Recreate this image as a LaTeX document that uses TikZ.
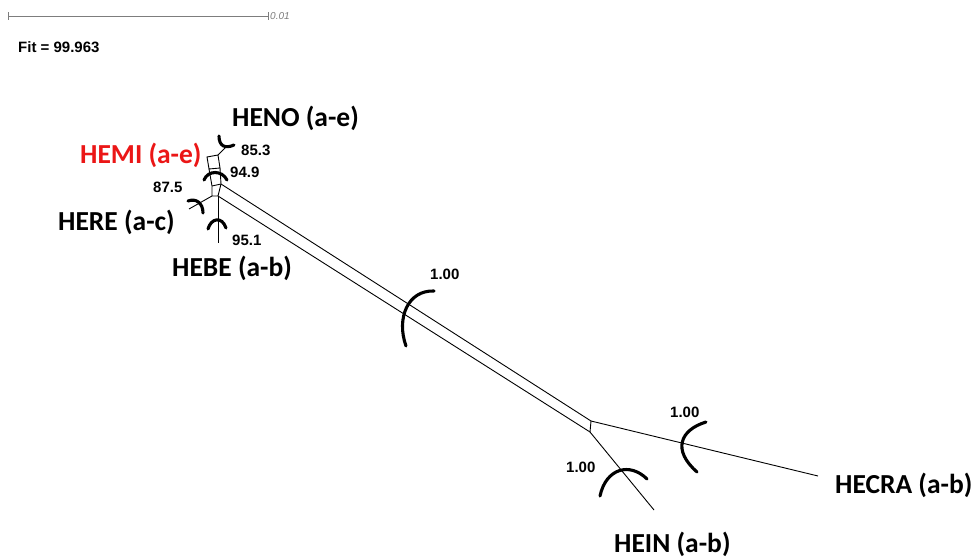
\documentclass[tikz,border=0pt]{standalone}
\usepackage{fontspec}
\setmainfont{Liberation Sans}
\newfontfamily\taxonfont{Carlito}
\definecolor{taxred}{RGB}{235,22,22}
\definecolor{bargray}{RGB}{125,125,125}
\begin{document}
\begin{tikzpicture}[x=1pt,y=-1pt,
  edge/.style={line width=0.9pt,black},
  support/.style={line width=3.1pt,black,line cap=round},
  taxon/.style={font=\taxonfont\bfseries\fontsize{27.5}{30}\selectfont,anchor=base west,inner sep=0pt},
  conf/.style={font=\bfseries\fontsize{15}{17}\selectfont,anchor=base west,inner sep=0pt},
]
\fill[white] (0,0) rectangle (974,559);
\useasboundingbox (0,0) rectangle (974,559);

% scale bar
\coordinate (sb0) at (8,16);
\coordinate (sb1) at (268,16);
\draw[bargray,line width=0.7pt] (sb0) -- (sb1);
\draw[bargray,line width=0.7pt] ([yshift=-4pt]sb0) -- ([yshift=4pt]sb0);
\draw[bargray,line width=0.7pt] ([yshift=-4pt]sb1) -- ([yshift=4pt]sb1);
\node[anchor=base west,inner sep=0pt,text=bargray,font=\itshape\fontsize{10}{12}\selectfont] (sblab) at (270,20) {0.01};
\node[conf] (fit) at (18,53) {Fit = 99.963};

% network vertices
\coordinate (p1) at (207,157);
\coordinate (p2) at (218,155);
\coordinate (p3) at (220,168);
\coordinate (p4) at (209,169);
\coordinate (p5) at (212,186);
\coordinate (p6) at (221,184);
\coordinate (p7) at (212,196);
\coordinate (p8) at (218,196);
\coordinate (e1) at (591,421);
\coordinate (e2) at (590,432);
% leaf ends
\coordinate (lheno) at (227,146);
\coordinate (lhere) at (189,209);
\coordinate (lhebe) at (218,243);
\coordinate (lhecra) at (818,476);
\coordinate (lhein) at (654,510);

% splits graph edges
\draw[edge] (p1) -- (p2) -- (p3) -- (p4) -- cycle;
\draw[edge] (p4) -- (p5) -- (p7) -- (p8) -- (p6) -- (p3);
\draw[edge] (p5) -- (p6);
\draw[edge] (p2) -- (lheno);
\draw[edge] (p7) -- (lhere);
\draw[edge] (p8) -- (lhebe);
\draw[edge] (p6) -- (e1);
\draw[edge] (p8) -- (e2);
\draw[edge] (e1) -- (e2);
\draw[edge] (e1) -- (lhecra);
\draw[edge] (e2) -- (lhein);

% support arcs
\draw[support] (219,136) .. controls (219,146) and (225,149) .. (234,145);
\draw[support] (204,180) .. controls (208,170) and (222,170) .. (227,180);
\draw[support] (188,201) .. controls (196,198) and (203,203) .. (203,213);
\draw[support] (208,229) .. controls (211,218) and (222,216) .. (226,228);
\draw[support] (434,291) .. controls (408,290) and (396,318) .. (406,346);
\draw[support] (706,422) .. controls (680,430) and (672,450) .. (697,472);
\draw[support] (600,496) .. controls (606,468) and (630,462) .. (647,479);

% support values
\node[conf] (s853) at (241,155) {85.3};
\node[conf] (s949) at (230,177) {94.9};
\node[conf] (s875) at (153,192) {87.5};
\node[conf] (s951) at (232,245) {95.1};
\node[conf] (s100a) at (430,279) {1.00};
\node[conf] (s100b) at (670,417) {1.00};
\node[conf] (s100c) at (566,472) {1.00};

% taxon labels
\node[taxon] (heno) at (232,127) {HENO (a-e)};
\node[taxon,text=taxred] (hemi) at (80,164) {HEMI (a-e)};
\node[taxon] (here) at (58,230) {HERE (a-c)};
\node[taxon] (hebe) at (172,276) {HEBE (a-b)};
\node[taxon] (hecra) at (835,493) {HECRA (a-b)};
\node[taxon] (hein) at (614,552) {HEIN (a-b)};
\end{tikzpicture}
\end{document}
